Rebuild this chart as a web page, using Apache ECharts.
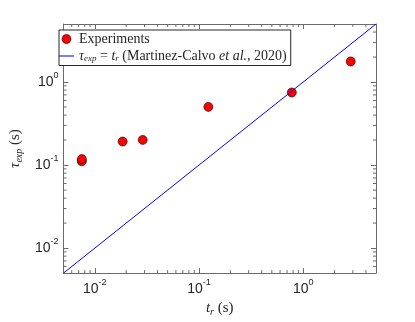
<!DOCTYPE html>
<html>
<head>
<meta charset="utf-8">
<script src="https://cdn.jsdelivr.net/npm/echarts@6/dist/echarts.min.js"></script>
<style>
  html, body { margin: 0; padding: 0; background: #fff; }
  #chart { width: 415px; height: 322px; }
</style>
</head>
<body>
<div id="chart"></div>
<script>
// measured points (t_r, tau_exp), seconds
var trValues = [0.0075, 0.0075, 0.0185, 0.0288, 0.123, 0.778, 2.86]
var tauValues = [0.111, 0.118, 0.192, 0.201, 0.502, 0.748, 1.77]
// tau_exp = t_r reference line
var refLineX = [0.005, 5]
var refLineY = [0.005, 5]
var axisMin = 0.005
var axisMax = 5

var axisColor = '#6b6b6b'
var textColor = '#262626'

// minor ticks 2..9 x 10^k inside the range
var minorTicks = []
for (var k = -3; k <= 0; k++) {
  for (var m = 2; m <= 9; m++) {
    var v = m * Math.pow(10, k)
    if (v > axisMin * 1.0001 && v < axisMax * 0.9999) minorTicks.push(v)
  }
}

var chart = echarts.init(document.getElementById('chart'))

function powLabel(v) {
  var e = Math.round(Math.log10(v))
  if (Math.abs(Math.log10(v) - e) > 1e-6) return ''
  return '{b|10}{s|' + e + '}'
}
var labelRich = {
  b: { fontSize: 14, fontFamily: 'Liberation Sans', color: textColor, lineHeight: 22 },
  s: { fontSize: 9, fontFamily: 'Liberation Sans', color: textColor, lineHeight: 9, verticalAlign: 'top' }
}
var nameRich = {
  i: { fontSize: 15, fontFamily: 'Liberation Serif', fontStyle: 'italic', color: textColor },
  sub: { fontSize: 10, fontFamily: 'Liberation Serif', fontStyle: 'italic', color: textColor, padding: [7, 0, 0, 0] },
  n: { fontSize: 15, fontFamily: 'Liberation Serif', color: textColor }
}

function baseAxis(extra) {
  var a = {
    type: 'log',
    logBase: 10,
    min: axisMin,
    max: axisMax,
    splitLine: { show: false },
    axisLine: { show: true, lineStyle: { color: axisColor, width: 1 } },
    axisTick: { show: true, inside: true, length: 5, lineStyle: { color: axisColor } },
    minorTick: { show: false }
  }
  return Object.assign(a, extra)
}

function minorTickItem(isX) {
  return function(params, api) {
    var v = api.value(0)
    var a, b, c, d
    if (isX) {
      a = api.coord([v, axisMin])
      b = api.coord([v, axisMax])
      return {
        type: 'group',
        children: [
          { type: 'line', shape: { x1: a[0], y1: a[1], x2: a[0], y2: a[1] - 3 }, style: { stroke: axisColor, lineWidth: 1 } },
          { type: 'line', shape: { x1: b[0], y1: b[1], x2: b[0], y2: b[1] + 3 }, style: { stroke: axisColor, lineWidth: 1 } }
        ]
      }
    }
    c = api.coord([axisMin, v])
    d = api.coord([axisMax, v])
    return {
      type: 'group',
      children: [
        { type: 'line', shape: { x1: c[0], y1: c[1], x2: c[0] + 3, y2: c[1] }, style: { stroke: axisColor, lineWidth: 1 } },
        { type: 'line', shape: { x1: d[0], y1: d[1], x2: d[0] - 3, y2: d[1] }, style: { stroke: axisColor, lineWidth: 1 } }
      ]
    }
  }
}

chart.setOption({
  animation: false,
  backgroundColor: '#fff',
  grid: { left: 53, right: 39, top: 24, bottom: 45 },
  legend: {
    orient: 'vertical',
    left: 59,
    top: 30,
    padding: [2, 4, 2, 0],
    itemGap: 3,
    itemWidth: 15,
    itemHeight: 9,
    backgroundColor: '#fff',
    borderColor: textColor,
    borderWidth: 1,
    data: [
      { name: 'Experiments', icon: 'circle', itemStyle: { color: '#ff0000', borderColor: '#000', borderWidth: 0.6 } },
      { name: 'ref', icon: 'path://M0,0 H30 V2 H0 Z', itemStyle: { color: '#0000ff', borderWidth: 0 } }
    ],
    formatter: function(name) {
      if (name === 'Experiments') return '{r|Experiments}'
      return '{i|τ}{sub|exp}{r| = }{i|t}{sub|r}{r| (Martinez-Calvo }{i|et al.}{r|, 2020)}'
    },
    textStyle: {
      rich: {
        r: { fontSize: 14, fontFamily: 'Liberation Serif', color: textColor },
        i: { fontSize: 14, fontFamily: 'Liberation Serif', fontStyle: 'italic', color: textColor },
        sub: { fontSize: 9, fontFamily: 'Liberation Serif', fontStyle: 'italic', color: textColor, padding: [6, 0, 0, 0] }
      }
    }
  },
  xAxis: [
    baseAxis({
      position: 'bottom',
      name: '{i|t}{sub|r}{n| (s)}',
      nameLocation: 'middle',
      nameGap: 26,
      nameTextStyle: { rich: nameRich },
      axisLabel: { formatter: powLabel, rich: labelRich, margin: 5, showMinLabel: false, showMaxLabel: false }
    }),
    baseAxis({ position: 'top', axisLabel: { show: false } })
  ],
  yAxis: [
    baseAxis({
      position: 'left',
      name: '{i|τ}{sub|exp}{n| (s)}',
      nameLocation: 'middle',
      nameGap: 34,
      nameRotate: 90,
      nameTextStyle: { rich: nameRich },
      axisLabel: { formatter: powLabel, rich: labelRich, margin: 5, showMinLabel: false, showMaxLabel: false }
    }),
    baseAxis({ position: 'right', axisLabel: { show: false } })
  ],
  series: [
    {
      type: 'custom',
      silent: true,
      renderItem: minorTickItem(true),
      data: minorTicks.map(function(v) { return [v, axisMin] })
    },
    {
      type: 'custom',
      silent: true,
      renderItem: minorTickItem(false),
      encode: { x: 1, y: 0 },
      data: minorTicks.map(function(v) { return [v, axisMin] })
    },
    {
      name: 'ref',
      type: 'line',
      symbol: 'none',
      lineStyle: { color: '#0000ff', width: 1 },
      itemStyle: { color: '#0000ff' },
      data: refLineX.map(function(x, i) { return [x, refLineY[i]] })
    },
    {
      name: 'Experiments',
      type: 'scatter',
      symbolSize: 9,
      itemStyle: { color: '#ff0000', borderColor: '#000', borderWidth: 0.6, opacity: 1 },
      data: trValues.map(function(x, i) { return [x, tauValues[i]] })
    }
  ]
})
</script>
</body>
</html>
